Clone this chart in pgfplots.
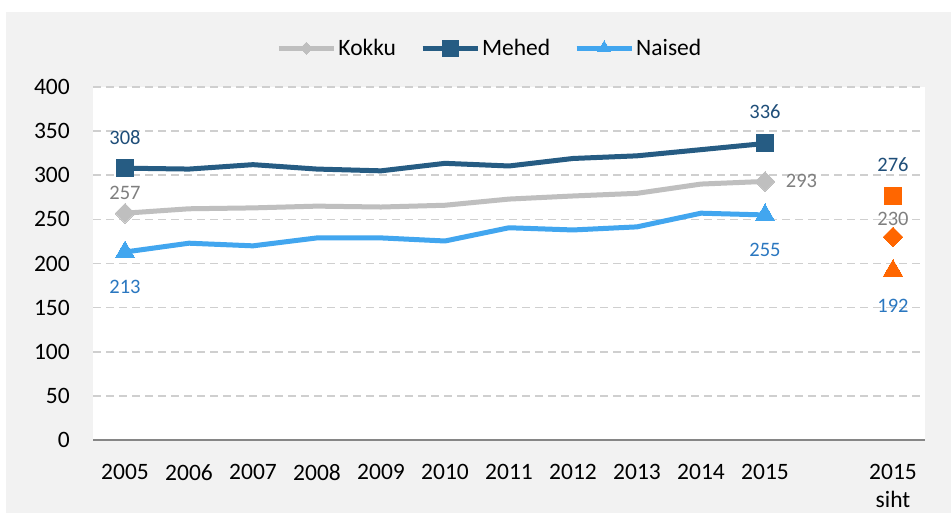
\documentclass[border=0pt]{standalone}
\usepackage{pgfplots}
\pgfplotsset{compat=1.18}
\usepackage{fontspec}
\setmainfont{Carlito}
\definecolor{bg}{HTML}{F2F2F2}
\definecolor{kok}{HTML}{BFBFBF}
\definecolor{meh}{HTML}{265C83}
\definecolor{nai}{HTML}{42A6EF}
\definecolor{org}{HTML}{FF6600}
\definecolor{kokl}{HTML}{7F7F7F}
\definecolor{mehl}{HTML}{1F4E79}
\definecolor{nail}{HTML}{2A77C0}
\definecolor{gridc}{HTML}{CFCFCF}
\definecolor{axc}{HTML}{868686}
\begin{document}
\begin{tikzpicture}[x=1pt,y=1pt]
\useasboundingbox (0,0) rectangle (951,513);
\fill[white] (0,0) rectangle (951,513);
\fill[bg] (6,0) rectangle (951,501);
\begin{axis}[
  at={(93pt,73pt)}, anchor=south west,
  scale only axis, width=832pt, height=353pt,
  xmin=-0.5, xmax=12.5, ymin=0, ymax=400,
  axis background/.style={fill=white},
  axis x line*=bottom, axis y line*=left,
  x axis line style={draw=axc, line width=2pt},
  y axis line style={draw=none},
  major tick length=0pt,
  ytick={0,50,...,400},
  xtick={0,1,2,3,4,5,6,7,8,9,10,12},
  xticklabels={2005,2006,2007,2008,2009,2010,2011,2012,2013,2014,2015,{2015\\siht}},
  ticklabel style={font=\fontsize{23.5}{28}\selectfont, text=black},
  yticklabel style={anchor=east, inner sep=0pt, xshift=-23pt},
  xticklabel style={anchor=north, inner sep=0pt, yshift=-24pt, align=center},
  /pgf/number format/assume math mode=true,
  ymajorgrids,
  major grid style={draw=gridc, line width=1.6pt, dash pattern=on 8pt off 5pt},
  legend style={at={(0.477,1.11)}, anchor=center, legend columns=-1, draw=none, fill=none,
    font=\fontsize{23.5}{27}\selectfont,
    /tikz/every even column/.append style={column sep=22pt},
    nodes={inner sep=2pt}},
  legend image code/.code={
    \draw[#1,mark=none] (0pt,0pt) -- (55pt,0pt);
    \draw[#1,mark indices={1}] plot coordinates {(27.5pt,0pt)};
  },
  clip=false,
]
\addplot[kok, line width=5pt, line join=round, mark=square*, mark indices={1,11}, mark size=7pt, mark options={rotate=45, solid, line width=0pt}, legend image post style={mark size=4.2pt}]
  coordinates {(0,257)(1,262)(2,263)(3,265)(4,264)(5,266)(6,273)(7,276.5)(8,279.5)(9,290)(10,293)};
\addlegendentry{Kokku}
\addplot[meh, line width=5pt, line join=round, mark=square*, mark indices={1,11}, mark size=8.5pt, mark options={solid, line width=0pt}, legend image post style={mark size=8pt}]
  coordinates {(0,308)(1,307)(2,312)(3,307)(4,305)(5,313.5)(6,310.5)(7,319)(8,322)(9,329)(10,336)};
\addlegendentry{Mehed}
\addplot[nai, line width=5pt, line join=round, mark=triangle*, mark indices={1,11}, mark size=11pt, mark options={solid, line width=0pt}, legend image post style={mark size=7.5pt}]
  coordinates {(0,213)(1,223)(2,220)(3,229)(4,229)(5,225.5)(6,240.5)(7,238)(8,241.5)(9,257)(10,255)};
\addlegendentry{Naised}
\addplot[only marks, org, mark=square*, mark size=8.5pt, mark options={line width=0pt}, forget plot] coordinates {(12,276)};
\addplot[only marks, org, mark=square*, mark size=7pt, mark options={rotate=45, line width=0pt}, forget plot] coordinates {(12,230)};
\addplot[only marks, org, mark=triangle*, mark size=11pt, mark options={line width=0pt}, forget plot] coordinates {(12,192)};
\begin{scope}[every node/.style={font=\fontsize{20.5}{24}\selectfont, inner sep=0pt}]
\node[text=mehl] at (axis cs:0,343) {308};
\node[text=kokl] at (axis cs:0,280) {257};
\node[text=nail] at (axis cs:0,173.4) {213};
\node[text=mehl] at (axis cs:10,371.7) {336};
\node[text=kokl] at (axis cs:10.57,293.5) {293};
\node[text=nail] at (axis cs:10,215.3) {255};
\node[text=mehl] at (axis cs:12,311.6) {276};
\node[text=kokl] at (axis cs:12,250) {230};
\node[text=nail] at (axis cs:12,152) {192};
\end{scope}
\end{axis}
\end{tikzpicture}
\end{document}
